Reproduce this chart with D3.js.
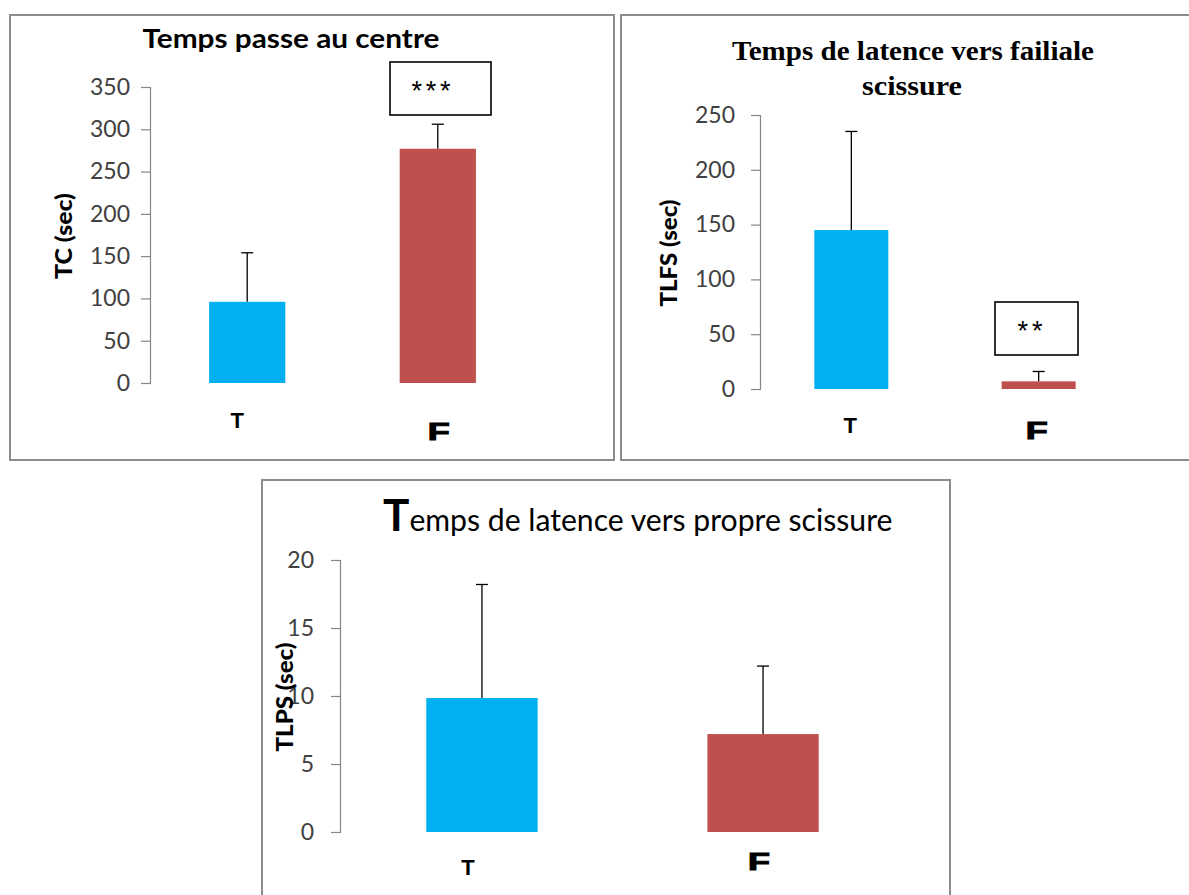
<!DOCTYPE html>
<html>
<head>
<meta charset="utf-8">
<title>Temps - barres</title>
<script src="https://cdn.jsdelivr.net/npm/d3@7/dist/d3.min.js"></script>
<style>
  body { margin: 0; background: #fff; }
  svg { display: block; }
</style>
</head>
<body>
<script>
  // data
  var categories = ["T", "F"];
  var tcMeans   = [96, 277],  tcErr   = [58, 29];
  var tlfsMeans = [145, 7],   tlfsErr = [90, 9];
  var tlpsMeans = [9.85, 7.2], tlpsErr = [8.35, 5.0];
  var tcTicks   = [0, 50, 100, 150, 200, 250, 300, 350];
  var tlfsTicks = [0, 50, 100, 150, 200, 250];
  var tlpsTicks = [0, 5, 10, 15, 20];
  var barColors = ["#00b0f0", "#c0504d"];

  var width = 1189, height = 895;
  var sans = "Lato, 'Open Sans', sans-serif";

  var svg = d3.select("body").append("svg")
      .attr("width", width)
      .attr("height", height);

  // panel frames
  var frames = [[10, 15, 604, 445], [621, 15, 580, 445], [262, 480, 688, 430]];
  frames.forEach(function(f) {
    svg.append("rect")
      .attr("x", f[0]).attr("y", f[1])
      .attr("width", f[2]).attr("height", f[3])
      .attr("fill", "none")
      .attr("stroke", "#8c8c8c")
      .attr("stroke-width", 2);
  });

  function drawPanel(p) {
    var g = svg.append("g");

    var y = d3.scaleLinear().domain(p.domain).range([p.y0, p.y1]);
    var x = d3.scaleBand().domain(categories)
        .range([p.axisX, p.xEnd])
        .paddingInner(p.padIn)
        .paddingOuter(p.padOut);

    // y axis
    var ax = g.append("g")
        .attr("transform", "translate(" + p.axisX + ",0)")
        .call(d3.axisLeft(y).tickValues(p.ticks).tickSize(9).tickPadding(p.tickPad));
    ax.select(".domain").attr("stroke", "#868686").attr("stroke-width", 1.2);
    ax.selectAll(".tick line").attr("stroke", "#868686").attr("stroke-width", 1.2);
    ax.selectAll(".tick text")
      .attr("fill", "#404040")
      .style("font-family", sans)
      .style("font-size", p.tickSize + "px");

    // bars
    g.selectAll("rect.bar").data(p.means).enter().append("rect")
      .attr("class", "bar")
      .attr("x", function(d, i) { return x(categories[i]); })
      .attr("y", function(d) { return y(d); })
      .attr("width", x.bandwidth())
      .attr("height", function(d) { return y(0) - y(d); })
      .attr("fill", function(d, i) { return barColors[i]; });

    // error bars (upper only)
    var cap = 6;
    p.means.forEach(function(m, i) {
      var cx = x(categories[i]) + x.bandwidth() / 2;
      g.append("line")
        .attr("x1", cx).attr("x2", cx)
        .attr("y1", y(m)).attr("y2", y(m + p.err[i]))
        .attr("stroke", "#000").attr("stroke-width", 1.3);
      g.append("line")
        .attr("x1", cx - cap).attr("x2", cx + cap)
        .attr("y1", y(m + p.err[i])).attr("y2", y(m + p.err[i]))
        .attr("stroke", "#000").attr("stroke-width", 1.3);
    });

    // category labels
    categories.forEach(function(c, i) {
      var cx = x(c) + x.bandwidth() / 2;
      var lab = p.catLab[i];
      var t = g.append("text")
        .attr("x", cx + lab.dx)
        .attr("y", lab.y)
        .attr("text-anchor", "middle")
        .style("font-family", "'Liberation Sans', Arial, sans-serif")
        .style("font-weight", "bold")
        .style("font-size", lab.size + "px")
        .attr("fill", "#000")
        .text(c);
      if (lab.len) {
        t.attr("textLength", lab.len).attr("lengthAdjust", "spacingAndGlyphs")
          .attr("stroke", "#000").attr("stroke-width", 1);
      }
    });

    // y title
    g.append("text")
      .attr("transform", "translate(" + p.yLab[0] + "," + p.yLab[1] + ") rotate(-90)")
      .attr("text-anchor", "middle")
      .attr("textLength", p.yLab[2]).attr("lengthAdjust", "spacingAndGlyphs")
      .style("font-family", sans)
      .style("font-weight", "900")
      .style("font-size", "23px")
      .attr("fill", "#000")
      .text(p.yTitle);

    // significance box
    if (p.sig) {
      g.append("rect")
        .attr("x", p.sig.x).attr("y", p.sig.y)
        .attr("width", p.sig.w).attr("height", p.sig.h)
        .attr("fill", "#fff").attr("stroke", "#000").attr("stroke-width", 1.6);
      g.append("text")
        .attr("x", p.sig.tx).attr("y", p.sig.ty)
        .attr("text-anchor", "middle")
        .attr("textLength", p.sig.len).attr("lengthAdjust", "spacing")
        .style("font-family", "'Liberation Sans', Arial, sans-serif")
        .style("font-size", "27px")
        .text(p.sig.label);
    }
    return g;
  }

  // panel 1
  var g1 = drawPanel({
    domain: [0, 350], y0: 383, y1: 87, ticks: tcTicks,
    axisX: 150, xEnd: 535, padIn: 0.6, padOut: 0.31,
    means: tcMeans, err: tcErr,
    tickPad: 11, tickSize: 23,
    yTitle: "TC (sec)", yLab: [72, 236, 86],
    catLab: [{dx: -10, y: 428, size: 22}, {dx: 1, y: 440, size: 23, len: 22}],
    sig: {x: 390, y: 62, w: 101, h: 53, tx: 431, ty: 100, len: 39, label: "***"}
  });
  g1.append("text")
    .attr("x", 291).attr("y", 48)
    .attr("text-anchor", "middle")
    .attr("textLength", 297).attr("lengthAdjust", "spacingAndGlyphs")
    .style("font-family", sans).style("font-weight", "bold").style("font-size", "27px")
    .text("Temps passe au centre");

  // panel 2
  var g2 = drawPanel({
    domain: [0, 250], y0: 389, y1: 115, ticks: tlfsTicks,
    axisX: 760, xEnd: 1130, padIn: 0.605, padOut: 0.29,
    means: tlfsMeans, err: tlfsErr,
    tickPad: 16, tickSize: 23,
    yTitle: "TLFS (sec)", yLab: [677, 253, 107],
    catLab: [{dx: -1, y: 433, size: 22}, {dx: -2, y: 439, size: 23, len: 22}],
    sig: {x: 995, y: 302, w: 83, h: 53, tx: 1030, ty: 340, len: 25, label: "**"}
  });
  var t2 = g2.append("text")
    .attr("text-anchor", "middle")
    .style("font-family", "'Liberation Serif', 'Times New Roman', serif")
    .style("font-weight", "bold").style("font-size", "27px");
  t2.append("tspan").attr("x", 913).attr("y", 60)
    .attr("textLength", 362).attr("lengthAdjust", "spacingAndGlyphs")
    .text("Temps de latence vers failiale");
  t2.append("tspan").attr("x", 912).attr("y", 95)
    .attr("textLength", 100).attr("lengthAdjust", "spacingAndGlyphs")
    .text("scissure");

  // panel 3
  var g3 = drawPanel({
    domain: [0, 20], y0: 832, y1: 560, ticks: tlpsTicks,
    axisX: 340, xEnd: 905, padIn: 0.604, padOut: 0.307,
    means: tlpsMeans, err: tlpsErr,
    tickPad: 17, tickSize: 23,
    yTitle: "TLPS (sec)", yLab: [293, 697, 109],
    catLab: [{dx: -14, y: 875, size: 22}, {dx: -4, y: 870, size: 23, len: 22}],
    sig: null
  });
  var t3 = g3.append("text")
    .attr("x", 383).attr("y", 531)
    .style("font-family", sans);
  t3.append("tspan").style("font-size", "44px").style("font-weight", "bold").text("T");
  t3.append("tspan").style("font-size", "30px")
    .attr("textLength", 483).attr("lengthAdjust", "spacingAndGlyphs")
    .text("emps de latence vers propre scissure");
</script>
</body>
</html>
